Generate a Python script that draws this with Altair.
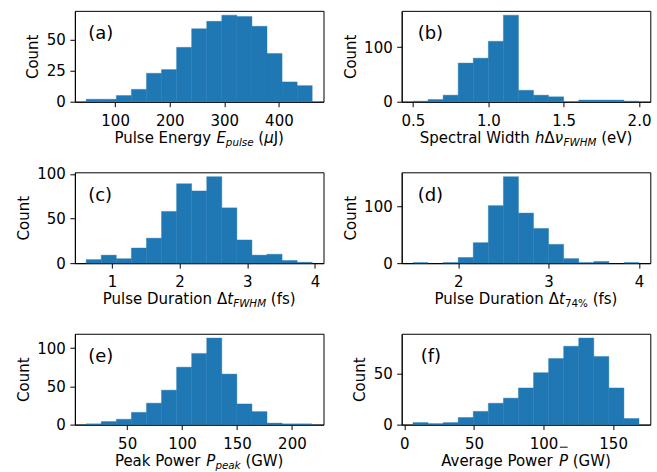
import altair as alt
import pandas as pd

# ---------------------------------------------------------------------------
# Histogram data: (first bin edge, last bin edge) and the count in each bin
# ---------------------------------------------------------------------------
energy_range = (47.0, 461.0)
energy_counts = [2, 2, 5, 10, 23, 26, 44, 59, 65, 70, 69, 61, 39, 16, 13]
energy_ticks = [100, 200, 300, 400]

width_range = (0.5, 2.0)
width_counts = [1, 4, 12, 71, 80, 111, 159, 21, 12, 9, 0, 3, 3, 3, 1]
width_ticks = [0.5, 1.0, 1.5, 2.0]

fwhm_range = (0.62, 3.96)
fwhm_counts = [4, 9, 5, 17, 28, 58, 89, 81, 97, 62, 26, 9, 10, 3, 1]
fwhm_ticks = [1, 2, 3, 4]

t74_range = (1.5, 4.0)
t74_counts = [1, 0, 1, 10, 36, 101, 152, 88, 61, 33, 8, 1, 3, 0, 1]
t74_ticks = [2, 3, 4]

peak_range = (12.7, 218.5)
peak_counts = [1, 4, 7, 16, 28, 45, 75, 93, 113, 66, 27, 17, 2, 1, 1]
peak_ticks = [50, 100, 150, 200]

avg_range = (6.2, 168.6)
avg_counts = [2, 1, 2, 7, 13, 21, 26, 36, 51, 65, 77, 85, 67, 36, 6]
avg_ticks = [0, 50, 100, 150]

count_ticks_a = [0, 25, 50]
count_ticks_b = [0, 100]
count_ticks_c = [0, 50, 100]
count_ticks_d = [0, 100]
count_ticks_e = [0, 50, 100]
count_ticks_f = [0, 50]

# ---------------------------------------------------------------------------
# Styling
# ---------------------------------------------------------------------------
FONT = "DejaVu Sans"
FS = 15              # tick labels and axis titles
SUB = 0.69           # subscript scale
LABEL_FS = 18        # panel letters
BLUE = "#1f77b4"
W, H = 249, 91       # plot area of each panel
TITLE_BASE = 41      # x-title baseline below the plot area

# DejaVu Sans advance widths (em) used to lay out the composite x titles
CHAR_W = {
    " ": .318, "(": .390, ")": .390, "%": .950, "7": .636, "4": .636,
    "A": .684, "C": .698, "D": .770, "E": .632, "F": .575, "G": .775,
    "H": .752, "J": .295, "M": .863, "P": .603, "S": .635, "V": .684,
    "W": .989, "a": .613, "c": .550, "d": .635, "e": .615, "f": .352,
    "g": .635, "h": .634, "i": .278, "k": .579, "l": .278, "n": .634,
    "o": .612, "p": .635, "r": .411, "s": .521, "t": .392, "u": .634,
    "v": .592, "w": .818, "y": .592, "\u0394": .684, "\u03bc": .635,
    "\u03bd": .592,
}


def text_width(s, size):
    return sum(CHAR_W.get(c, 0.6) for c in s) * size


def x_title(segments):
    """Lay out a title made of normal / italic / subscript runs under the plot."""
    sizes = [FS * SUB if st.startswith("s") else FS for _, st in segments]
    widths = [text_width(t, sz) for (t, _), sz in zip(segments, sizes)]
    x = W / 2 - sum(widths) / 2
    base = H + TITLE_BASE
    layers = []
    for (t, st), sz, w in zip(segments, sizes, widths):
        lead = len(t) - len(t.lstrip(" "))
        shown = t.strip(" ")
        x0 = x + lead * CHAR_W[" "] * sz
        layers.append(
            alt.Chart(pd.DataFrame({"t": [shown]}))
            .mark_text(
                align="left",
                baseline="alphabetic",
                font=FONT,
                fontSize=sz,
                fontStyle="italic" if "i" in st else "normal",
                dy=3 if st.startswith("s") else 0,
                color="black",
            )
            .encode(text="t:N", x=alt.value(x0), y=alt.value(base))
        )
        if "o" in st:
            # bar over the symbol
            layers.append(
                alt.Chart(pd.DataFrame({"t": [0]}))
                .mark_rect(color="black")
                .encode(
                    x=alt.value(x0 + 1.0),
                    x2=alt.value(x0 + w - 0.3),
                    y=alt.value(base - 18.9),
                    y2=alt.value(base - 17.9),
                )
            )
        x += w
    return layers


def panel(rng, counts, xticks, xfmt, yticks, letter, letter_dx, segments):
    lo, hi = rng
    n = len(counts)
    step = (hi - lo) / n
    df = pd.DataFrame(
        {
            "start": [lo + i * step for i in range(n)],
            "end": [lo + (i + 1) * step for i in range(n)],
            "count": counts,
            "base": 0,
        }
    )
    df = df[df["count"] > 0]
    margin = 0.05 * (hi - lo)
    ymax = 1.05 * max(counts)

    bars = (
        alt.Chart(df)
        .mark_rect(color=BLUE, stroke=BLUE, strokeWidth=0.4)
        .encode(
            x=alt.X(
                "start:Q",
                scale=alt.Scale(domain=[lo - margin, hi + margin], nice=False, zero=False),
                axis=alt.Axis(values=xticks, format=xfmt, title=None),
            ),
            x2="end:Q",
            y=alt.Y(
                "count:Q",
                scale=alt.Scale(domain=[0, ymax], nice=False, zero=False),
                axis=alt.Axis(values=yticks, format="d", title="Count"),
            ),
            y2="base:Q",
        )
    )
    tag = (
        alt.Chart(pd.DataFrame({"t": [letter]}))
        .mark_text(align="left", baseline="alphabetic", font=FONT,
                   fontSize=LABEL_FS, color="black")
        .encode(text="t:N", x=alt.value(letter_dx), y=alt.value(28.5))
    )
    return alt.layer(bars, tag, *x_title(segments)).properties(width=W, height=H)


panels = [
    panel(energy_range, energy_counts, energy_ticks, "d", count_ticks_a, "(a)", 13.3,
          [("Pulse Energy ", "n"), ("E", "i"), ("pulse", "si"), (" (", "n"),
           ("\u03bc", "i"), ("J)", "n")]),
    panel(width_range, width_counts, width_ticks, ".1f", count_ticks_b, "(b)", 16,
          [("Spectral Width ", "n"), ("h", "i"), ("\u0394", "n"), ("\u03bd", "i"),
           ("FWHM", "si"), (" (eV)", "n")]),
    panel(fwhm_range, fwhm_counts, fwhm_ticks, "d", count_ticks_c, "(c)", 13.3,
          [("Pulse Duration ", "n"), ("\u0394", "n"), ("t", "i"), ("FWHM", "si"),
           (" (fs)", "n")]),
    panel(t74_range, t74_counts, t74_ticks, "d", count_ticks_d, "(d)", 16,
          [("Pulse Duration ", "n"), ("\u0394", "n"), ("t", "i"), ("74%", "s"),
           (" (fs)", "n")]),
    panel(peak_range, peak_counts, peak_ticks, "d", count_ticks_e, "(e)", 13.3,
          [("Peak Power ", "n"), ("P", "i"), ("peak", "si"), (" (GW)", "n")]),
    panel(avg_range, avg_counts, avg_ticks, "d", count_ticks_f, "(f)", 19,
          [("Average Power ", "n"), ("P", "io"), (" (GW)", "n")]),
]

chart = (
    alt.concat(*panels, columns=2, spacing={"row": 70.7, "column": 78.3}, bounds="flush")
    .properties(padding={"left": 15.0, "top": 9.5, "right": 5, "bottom": 5})
    .configure_view(stroke="black", strokeWidth=1)
    .configure_axis(
        grid=False,
        domainColor="black",
        domainWidth=1,
        tickColor="black",
        tickWidth=1,
        tickSize=5,
        labelColor="black",
        titleColor="black",
        labelFont=FONT,
        titleFont=FONT,
        labelFontSize=FS,
        titleFontSize=FS,
        titleFontWeight="normal",
    )
    .configure_axisX(labelPadding=6.5)
    .configure_axisY(labelPadding=4.5, titlePadding=5.5)
)

chart.save("out.html", embed_options={"renderer": "svg", "actions": False})
